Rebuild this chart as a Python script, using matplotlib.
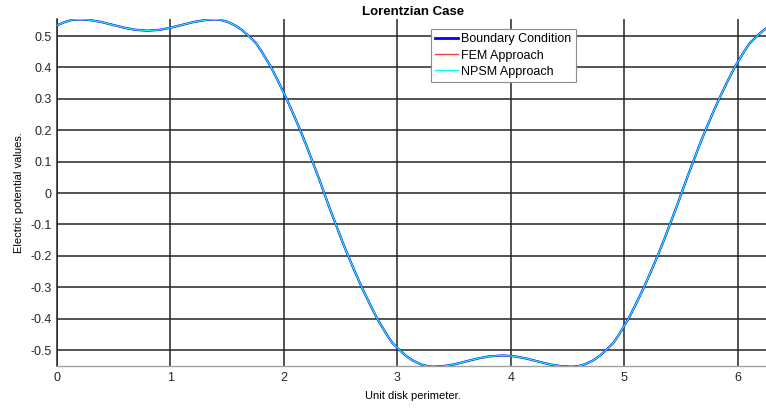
import matplotlib

matplotlib.use("Agg")
import matplotlib.pyplot as plt

# values (position on the unit disk perimeter, potential)
theta = [
    0.000, 0.060, 0.130, 0.210, 0.290, 0.390, 0.490, 0.590, 0.690, 0.800,
    0.910, 1.010, 1.110, 1.210, 1.310, 1.390, 1.437, 1.507, 1.577, 1.637,
    1.692, 1.757, 1.807, 1.847, 1.890, 1.957, 2.026, 2.087, 2.146, 2.202,
    2.254, 2.307, 2.357, 2.407, 2.460, 2.512, 2.568, 2.627, 2.688, 2.757,
    2.824, 2.867, 2.907, 2.957, 3.022, 3.077, 3.137, 3.207, 3.277, 3.324,
    3.407, 3.507, 3.607, 3.707, 3.807, 3.930, 4.040, 4.140, 4.240, 4.340,
    4.440, 4.530, 4.585, 4.655, 4.725, 4.785, 4.840, 4.905, 4.955, 4.995,
    5.038, 5.105, 5.174, 5.235, 5.294, 5.350, 5.402, 5.455, 5.505, 5.555,
    5.608, 5.660, 5.716, 5.775, 5.836, 5.905, 5.972, 6.015, 6.055, 6.105,
    6.170, 6.225, 6.283,
]
boundary = [
    0.533, 0.543, 0.551, 0.553, 0.551, 0.545, 0.536, 0.527, 0.520, 0.517,
    0.520, 0.527, 0.536, 0.545, 0.551, 0.553, 0.552, 0.545, 0.533, 0.518,
    0.500, 0.477, 0.450, 0.426, 0.400, 0.352, 0.300, 0.250, 0.200, 0.150,
    0.100, 0.050, 0.000, -0.050, -0.100, -0.150, -0.200, -0.250, -0.300, -0.352,
    -0.400, -0.426, -0.450, -0.477, -0.500, -0.518, -0.533, -0.545, -0.552, -0.553,
    -0.551, -0.545, -0.536, -0.527, -0.520, -0.517, -0.520, -0.527, -0.536, -0.545,
    -0.551, -0.553, -0.552, -0.545, -0.533, -0.518, -0.500, -0.477, -0.450, -0.426,
    -0.400, -0.352, -0.300, -0.250, -0.200, -0.150, -0.100, -0.050, 0.000, 0.050,
    0.100, 0.150, 0.200, 0.250, 0.300, 0.352, 0.400, 0.426, 0.450, 0.477,
    0.500, 0.518, 0.533,
]
# both numerical solutions lie on the boundary data at this scale
fem = list(boundary)
npsm = list(boundary)

xticks = [0, 1, 2, 3, 4, 5, 6]
yticks = [-0.5, -0.4, -0.3, -0.2, -0.1, 0.0, 0.1, 0.2, 0.3, 0.4, 0.5]
ytick_labels = ["-0.5", "-0.4", "-0.3", "-0.2", "-0.1", "0", "0.1", "0.2", "0.3", "0.4", "0.5"]

plt.rcParams["font.family"] = ["Liberation Sans", "DejaVu Sans"]
plt.rcParams["font.size"] = 9

fig = plt.figure(figsize=(7.66, 4.13), dpi=100)
ax = fig.add_axes([0.074, 0.115, 0.931, 0.838])

ax.plot(theta, boundary, color="#0000ff", lw=1.6, label="Boundary Condition", zorder=3)
ax.plot(theta, fem, color="#ff4040", lw=0.6, label="FEM Approach", zorder=4)
ax.plot(theta, npsm, color="#00ffff", lw=0.8, label="NPSM Approach", zorder=5)

ax.set_xlim(0, 6.283)
ax.set_ylim(-0.549, 0.553)
ax.set_xticks(xticks)
ax.set_yticks(yticks)
ax.set_yticklabels(ytick_labels)
ax.tick_params(length=0, colors="#262626", labelsize=9)
ax.tick_params(axis="y", pad=3.5)
ax.tick_params(axis="x", pad=5)

ax.grid(True, color="#262626", lw=1.1, alpha=1.0)
ax.set_axisbelow(True)
for side in ("top", "right"):
    ax.spines[side].set_visible(False)
ax.spines["left"].set_color("#262626")
ax.spines["left"].set_linewidth(1.1)
ax.spines["bottom"].set_color("#a0a0a0")
ax.spines["bottom"].set_linewidth(1.0)

ax.set_title("Lorentzian Case", fontsize=9.5, fontweight="bold", pad=3.5)
ax.set_xlabel("Unit disk perimeter.", fontsize=8, labelpad=5)
ax.set_ylabel("Electric potential values.", fontsize=8, labelpad=5)

leg = ax.legend(
    loc="upper left",
    bbox_to_anchor=(0.525, 0.972),
    fontsize=9,
    frameon=True,
    fancybox=False,
    edgecolor="#8c8c8c",
    framealpha=1.0,
    handlelength=1.8,
    handletextpad=0.25,
    borderpad=0.35,
    borderaxespad=0.0,
    labelspacing=0.33,
)
leg.get_frame().set_linewidth(0.8)
for handle, width in zip(leg.legend_handles, (2.0, 1.0, 1.0)):
    handle.set_linewidth(width)

fig.savefig("out.png", dpi=100)
plt.close(fig)
